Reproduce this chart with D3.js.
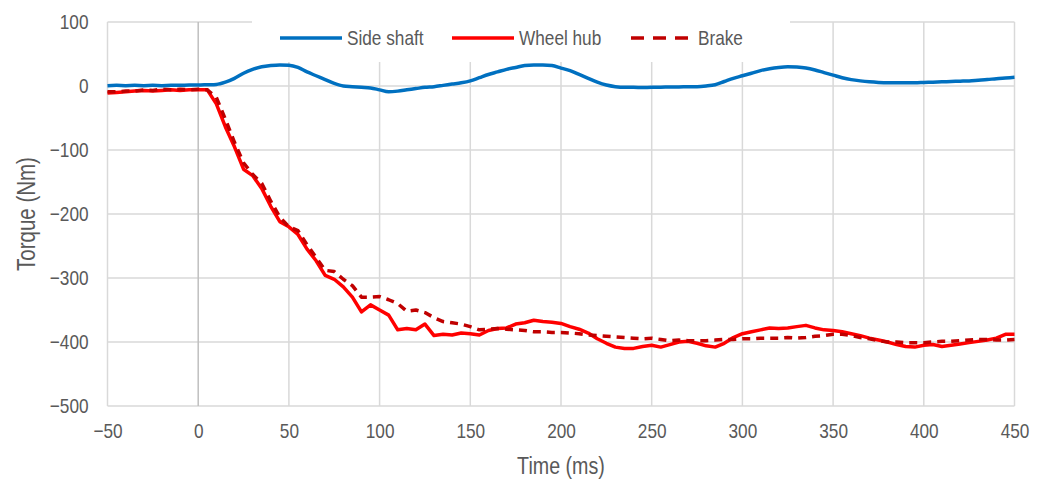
<!DOCTYPE html>
<html lang="en">
<head>
<meta charset="UTF-8">
<title>Torque</title>
<style>
    body { margin: 0; background: #fff; }
    text { font-family: "Liberation Sans", Arial, sans-serif; fill: #595959; }
    .grid line { stroke: #d9d9d9; stroke-width: 1.5; }
</style>
</head>
<body>
<script src="https://cdn.jsdelivr.net/npm/d3@7"></script>
<script>
// time axis (ms), one sample every 5 ms from -50 to 450
var times = d3.range(-50, 451, 5);

var sideShaft = [0.5, 1, 0.5, 1, 0.5, 1, 0.5, 1, 1, 1.5, 1.5, 2, 2.5, 6, 12, 20, 26, 30, 32, 33,
    32.5, 29, 22, 16, 10, 4, 0, -1, -2, -3, -6, -9, -8, -6, -4, -2, -1, 1, 3, 5,
    8, 13, 18, 22, 26, 29, 32, 33, 33, 32, 28, 24, 18, 12, 6, 1.5, -1, -2, -2, -2.5,
    -2, -2, -1.5, -1.5, -1, -1, 0, 2, 7, 12, 16, 20, 24, 27, 29, 30, 29.5, 28, 25, 21,
    17, 13, 10, 8, 6.5, 5.5, 5, 5, 5, 5, 5.5, 6, 6.5, 7, 7.5, 8, 9, 10, 11.5, 12.5, 13.5];

var wheelHub = [-11, -10, -9, -8, -7, -8, -7, -6, -7, -6, -6, -6, -28, -64, -95, -130, -140, -160, -188, -212,
    -220, -232, -255, -273, -296, -302, -314, -330, -353, -342, -350, -358, -381, -379, -381, -372, -390, -388, -389, -386,
    -387, -389, -382, -379, -378, -372, -370, -366, -368, -369, -371, -376, -380, -386, -395, -402, -408, -410, -410, -407,
    -405, -408, -404, -400, -399, -402, -406, -408, -402, -393, -387, -384, -381, -378, -379, -378, -376, -374, -378, -381,
    -382, -384, -387, -390, -394, -397, -400, -404, -407, -408, -405, -404, -407, -405, -403, -401, -399, -397, -394, -388, -388];

var brake = [-9, -9, -8, -8, -6, -7, -5, -6, -5, -6, -5, -6, -18, -52, -88, -120, -138, -152, -180, -205,
    -220, -226, -248, -268, -288, -290, -302, -312, -330, -330, -329, -334, -340, -352, -350, -354, -362, -368, -370, -372,
    -376, -381, -380, -379, -380, -381, -382, -384, -384, -385, -385, -386, -387, -389, -390, -391, -392, -393, -394, -395,
    -394, -396, -398, -397, -398, -398, -398, -397, -396, -396, -395, -395, -394, -394, -394, -393, -394, -393, -391, -390,
    -388, -388, -390, -393, -395, -398, -400, -400, -401, -401, -401, -400, -399, -399, -398, -397, -396, -396, -397, -397, -396];

var xTicks = [-50, 0, 50, 100, 150, 200, 250, 300, 350, 400, 450];
var yTicks = [100, 0, -100, -200, -300, -400, -500];

var series = [
    { name: "Side shaft", values: sideShaft, color: "#0070c0", dash: null, curve: d3.curveMonotoneX },
    { name: "Wheel hub", values: wheelHub, color: "#ff0000", dash: null, curve: d3.curveLinear },
    { name: "Brake", values: brake, color: "#c00000", dash: "8,6", curve: d3.curveLinear }
];

var W = 1043, H = 480;
var margin = { top: 22, right: 28.5, bottom: 74, left: 107.5 },
    width = W - margin.left - margin.right,
    height = H - margin.top - margin.bottom;

// the original font is a narrow one; squeeze text horizontally around its anchor
var squeeze = 0.82;
function narrow(sel) {
    sel.each(function() {
        var ax = +d3.select(this).attr("x") || 0;
        d3.select(this).attr("transform",
            "translate(" + ax + ",0) scale(" + squeeze + ",1) translate(" + (-ax) + ",0)");
    });
}
function minus(d) { return String(d).replace("-", "\u2212"); }

var svg = d3.select("body").append("svg")
    .attr("width", W)
    .attr("height", H);

var g = svg.append("g")
    .attr("transform", "translate(" + margin.left + "," + margin.top + ")");

var x = d3.scaleLinear().domain([-50, 450]).range([0, width]);
var y = d3.scaleLinear().domain([-500, 100]).range([height, 0]);

// gridlines
g.append("g").attr("class", "grid")
    .selectAll("line").data(yTicks).enter().append("line")
    .attr("x1", 0).attr("x2", width)
    .attr("y1", function(d) { return y(d); })
    .attr("y2", function(d) { return y(d); });
g.append("g").attr("class", "grid")
    .selectAll("line").data(xTicks).enter().append("line")
    .attr("x1", function(d) { return x(d); })
    .attr("x2", function(d) { return x(d); })
    .attr("y1", 0).attr("y2", height)
    .style("stroke", function(d) { return d === 0 ? "#bfbfbf" : null; });

// tick labels
var yAxis = g.append("g")
    .call(d3.axisLeft(y).tickValues(yTicks).tickSize(0).tickPadding(19).tickFormat(minus));
yAxis.select(".domain").remove();
yAxis.selectAll("text").style("font-size", "21px").attr("fill", "#595959").call(narrow);

var xAxis = g.append("g")
    .attr("transform", "translate(0," + height + ")")
    .call(d3.axisBottom(x).tickValues(xTicks).tickSize(0).tickPadding(17).tickFormat(minus));
xAxis.select(".domain").remove();
xAxis.selectAll("text").style("font-size", "21px").attr("fill", "#595959").call(narrow);

// axis titles
svg.append("text")
    .attr("transform", "translate(35," + (margin.top + height / 2) + ") rotate(-90) scale(" + squeeze + ",1)")
    .attr("text-anchor", "middle")
    .style("font-size", "25px")
    .text("Torque (Nm)");
svg.append("text")
    .attr("x", margin.left + width / 2)
    .attr("y", 474)
    .attr("text-anchor", "middle")
    .style("font-size", "24px")
    .text("Time (ms)")
    .call(narrow);

// lines
[1, 2, 0].forEach(function(k) {
    var s = series[k];
    var line = d3.line()
        .curve(s.curve)
        .x(function(d, i) { return x(times[i]); })
        .y(function(d) { return y(d); });
    g.append("path")
        .datum(s.values)
        .attr("fill", "none")
        .attr("stroke", s.color)
        .attr("stroke-width", 3.5)
        .attr("stroke-linejoin", "round")
        .attr("stroke-dasharray", s.dash)
        .attr("d", line);
});

// legend
var legend = svg.append("g");
legend.append("rect")
    .attr("x", 252).attr("y", 12).attr("width", 538).attr("height", 50)
    .attr("fill", "#fff");
var legX = [280, 452, 631];
series.forEach(function(s, i) {
    legend.append("line")
        .attr("x1", legX[i]).attr("x2", legX[i] + 62)
        .attr("y1", 38).attr("y2", 38)
        .attr("stroke", s.color)
        .attr("stroke-width", 3.5)
        .attr("stroke-dasharray", s.dash ? "13,9" : null);
    legend.append("text")
        .attr("x", legX[i] + 67)
        .attr("y", 38)
        .attr("dy", "0.35em")
        .style("font-size", "21px")
        .text(s.name)
        .call(narrow);
});
</script>
</body>
</html>
